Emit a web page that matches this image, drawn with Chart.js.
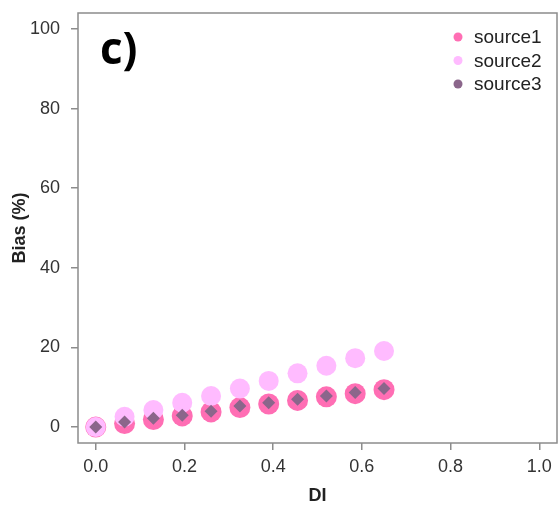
<!DOCTYPE html>
<html>
<head>
<meta charset="utf-8">
<script src="https://cdn.jsdelivr.net/npm/chart.js@4.4.1/dist/chart.umd.min.js"></script>
<style>
body{margin:0;background:#fff;}
canvas{display:block;}
</style>
</head>
<body>
<canvas id="biasChart" width="559" height="512"></canvas>
<script>

/* DATA */

let di=[0,0.065,0.13,0.195,0.26,0.325,0.39,0.455,0.52,0.585,0.65];

let source1=[0,0.9,1.9,2.8,3.8,4.9,5.8,6.7,7.6,8.4,9.4];

let source2=[0,2.6,4.3,6.1,7.8,9.7,11.6,13.5,15.4,17.3,19.1];

let source3=[0,1.3,2.2,3.0,4.0,5.3,6.1,7.0,7.8,8.7,9.7];

let seriesNames=["source1","source2","source3"];

let xTicks=[0,0.2,0.4,0.6,0.8,1.0];

let yTicks=[0,20,40,60,80,100];

let panelLabel="c)";



function pts(ys){

return di.map((x,i)=>({x:x,y:ys[i]}));

}


function noPad(s){

s.paddingLeft=0;s.paddingRight=0;s.paddingTop=0;s.paddingBottom=0;

}



/* box, legend inside plot, panel letter */

const extras={

id:"extras",

afterDraw(chart){

const ctx=chart.ctx;

const a=chart.chartArea;

ctx.save();

ctx.strokeStyle="#8c8c8c";

ctx.lineWidth=1.5;

ctx.strokeRect(a.left,a.top,a.right-a.left,a.bottom-a.top);


ctx.fillStyle="#000";

ctx.font="bold 44px 'Open Sans', 'Liberation Sans', sans-serif";

ctx.textBaseline="alphabetic";

ctx.fillText(panelLabel,100,64);


ctx.font="19px 'Liberation Sans', Arial, sans-serif";

ctx.textBaseline="middle";

chart.data.datasets.forEach((ds,i)=>{

let y=37+i*23.5;

ctx.fillStyle=ds.backgroundColor;

ctx.beginPath();

ctx.arc(458,y,4.5,0,Math.PI*2);

ctx.fill();

ctx.fillStyle="#222";

ctx.fillText(ds.label,474,y+1);

});

ctx.restore();

}

};



const ctx=document.getElementById("biasChart").getContext("2d");

new Chart(ctx,{

type:"scatter",

data:{

datasets:[

{label:seriesNames[0],data:pts(source1),backgroundColor:"#FF6EB4",pointStyle:"circle",pointRadius:10.5,borderWidth:0,order:3},

{label:seriesNames[1],data:pts(source2),backgroundColor:"#FFBBFF",pointStyle:"circle",pointRadius:10,borderWidth:0,order:2},

{label:seriesNames[2],data:pts(source3),backgroundColor:"#8B668B",pointStyle:"rectRot",pointRadius:6.5,borderWidth:0,order:1}

]

},

options:{

responsive:false,

animation:false,

layout:{autoPadding:false,padding:{top:13,right:2,left:0,bottom:0}},

plugins:{legend:{display:false},tooltip:{enabled:false}},

scales:{

x:{

type:"linear",

min:-0.04,

max:1.04,

afterBuildTicks(s){s.ticks=xTicks.map(v=>({value:v}));},

afterFit(s){s.height=69;noPad(s);},

grid:{drawOnChartArea:false,drawTicks:true,tickLength:7,color:"#8c8c8c",lineWidth:1.5},

border:{display:false},

ticks:{padding:6,color:"#333",font:{size:18,family:"'Liberation Sans', Arial, sans-serif"},callback:v=>v.toFixed(1),maxRotation:0},

title:{display:true,text:"DI",color:"#222",padding:{top:0,bottom:5},font:{size:18,weight:"bold",family:"'Liberation Sans', Arial, sans-serif"}}

},

y:{

type:"linear",

min:-4,

max:104,

afterBuildTicks(s){s.ticks=yTicks.map(v=>({value:v}));},

afterFit(s){s.width=78;noPad(s);},

grid:{drawOnChartArea:false,drawTicks:true,tickLength:7,color:"#8c8c8c",lineWidth:1.5},

border:{display:false},

ticks:{padding:11,color:"#333",font:{size:18,family:"'Liberation Sans', Arial, sans-serif"}},

title:{display:true,text:"Bias (%)",color:"#222",padding:{top:9,bottom:0},font:{size:18,weight:"bold",family:"'Liberation Sans', Arial, sans-serif"}}

}

}

},

plugins:[extras]

});

</script>
</body>
</html>
